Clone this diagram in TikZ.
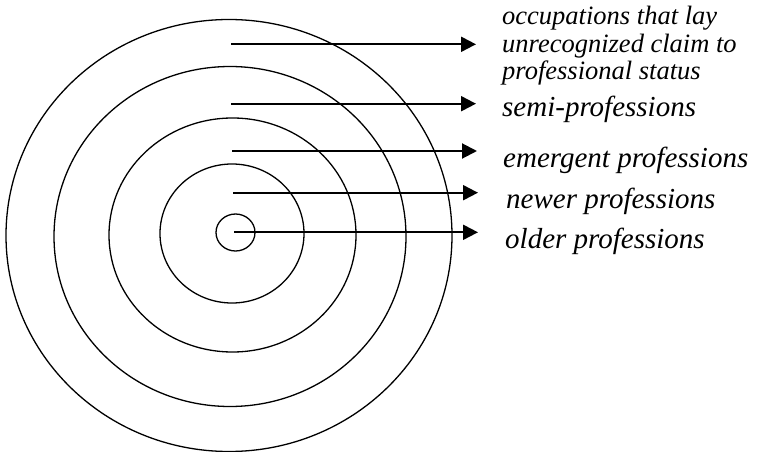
\documentclass[tikz,border=0pt]{standalone}
\usepackage{fontspec}
\setmainfont{Liberation Serif}
\usetikzlibrary{arrows.meta}
\tikzset{
  ring/.style={draw=black, line width=1.3pt},
  pointer/.style={-{Triangle[length=15pt,width=15pt]}, line width=2pt},
  levelname/.style={anchor=base west, inner sep=0pt, align=left, font=\itshape\fontsize{29}{27.5}\selectfont},
  smalllevelname/.style={levelname, font=\itshape\fontsize{26.5}{27.5}\selectfont}
}
\begin{document}
\begin{tikzpicture}[x=1pt, y=-1pt]
\useasboundingbox (0,0) rectangle (758,452);
% rings, outermost first
\draw[ring] (229,235.5) ellipse [x radius=223pt, y radius=216pt];
\draw[ring] (230,236.5) ellipse [x radius=176pt, y radius=170pt];
\draw[ring] (232.5,235) ellipse [x radius=123.5pt, y radius=117pt];
\draw[ring] (232,233.5) ellipse [x radius=72pt, y radius=69.5pt];
\draw[ring] (235.5,232.5) ellipse [x radius=19.5pt, y radius=18.5pt];
% arrow ends
\coordinate (claimstart) at (231,44.3);
\coordinate (claimend) at (476,44.3);
\coordinate (semistart) at (231,103.7);
\coordinate (semiend) at (476,103.7);
\coordinate (emergentstart) at (232,151);
\coordinate (emergentend) at (477,151);
\coordinate (newerstart) at (233,192.7);
\coordinate (newerend) at (478,192.7);
\coordinate (olderstart) at (234,232.3);
\coordinate (olderend) at (478,232.3);
% labels (base of a block is its last line)
\node[smalllevelname] (claim) at (502,80) {occupations that lay\\unrecognized claim to\\professional status};
\node[levelname] (semi) at (502,116) {semi-professions};
\node[levelname] (emergent) at (503,167) {emergent professions};
\node[levelname] (newer) at (506,208) {newer professions};
\node[levelname] (older) at (505,248) {older professions};
\draw[pointer] (claimstart) -- (claimend);
\draw[pointer] (semistart) -- (semiend);
\draw[pointer] (emergentstart) -- (emergentend);
\draw[pointer] (newerstart) -- (newerend);
\draw[pointer] (olderstart) -- (olderend);
\end{tikzpicture}
\end{document}
